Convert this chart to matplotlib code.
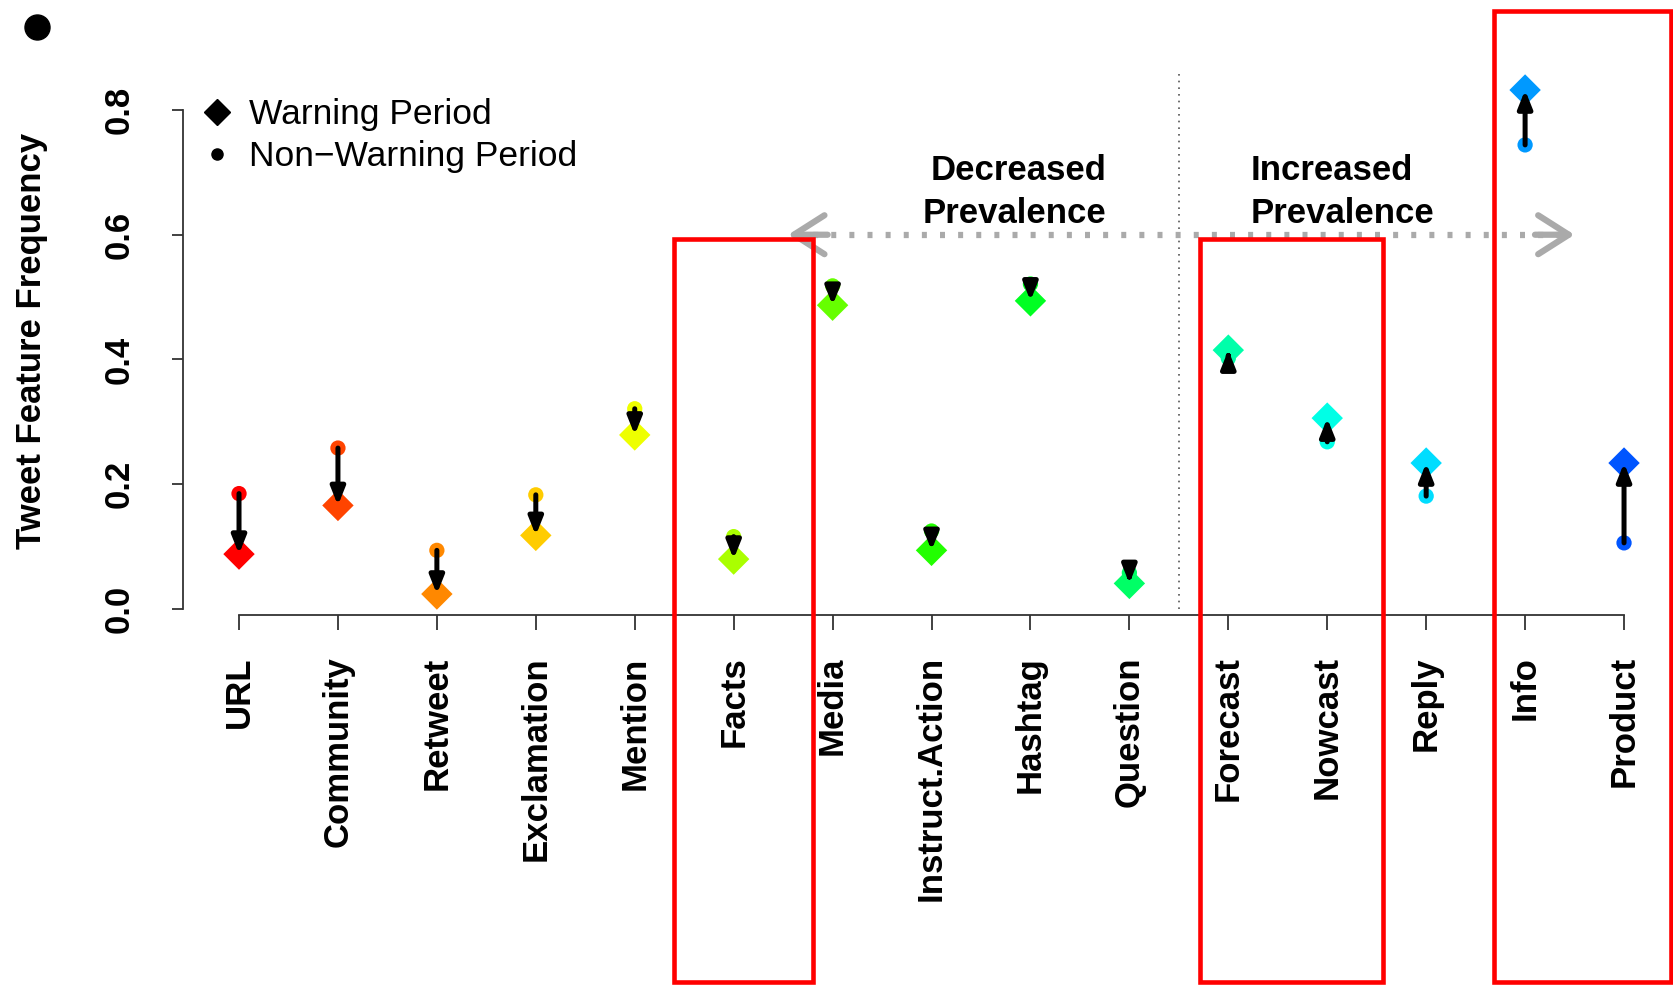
import numpy as np
import matplotlib
matplotlib.use('Agg')
import matplotlib.pyplot as plt
from matplotlib.patches import Rectangle
from matplotlib.lines import Line2D

plt.rcParams['font.family'] = ['Liberation Sans', 'DejaVu Sans']

# tweet features and frequencies
features = ['URL', 'Community', 'Retweet', 'Exclamation', 'Mention', 'Facts',
            'Media', 'Instruct.Action', 'Hashtag', 'Question', 'Forecast',
            'Nowcast', 'Reply', 'Info', 'Product']
warning = [0.088, 0.166, 0.024, 0.118, 0.279, 0.080, 0.487, 0.094, 0.494,
           0.041, 0.415, 0.306, 0.234, 0.832, 0.234]
non_warning = [0.185, 0.258, 0.094, 0.183, 0.321, 0.116, 0.518, 0.125, 0.521,
               0.058, 0.402, 0.268, 0.181, 0.744, 0.106]
colors = ['#FF0000', '#FF4400', '#FF8800', '#FFCC00', '#EEFF00', '#AAFF00',
          '#66FF00', '#22FF00', '#00FF22', '#00FF66', '#00FFAA', '#00FFE6',
          '#00DDFF', '#0099FF', '#0055FF']

# highlight boxes (x from, x to, top) in axis units
boxes = [(4.40, 5.80, 0.593), (9.71, 11.56, 0.593), (12.69, 14.47, 0.959)]

x = np.arange(len(features))

fig = plt.figure(figsize=(16.73, 9.86), dpi=100)
ax = fig.add_axes([0, 0, 1, 1])
ax.set_xlim(-2.416, 14.495)
ax.set_ylim(-0.6044, 0.9763)

# colored markers
ax.scatter(x, warning, marker='D', s=16**2, c=colors, edgecolors='none', zorder=3)
ax.scatter(x, non_warning, marker='o', s=11**2, c=colors, edgecolors='none', zorder=3)

# black arrows from non-warning to warning
for xi, w, nw in zip(x, warning, non_warning):
    ax.annotate('', xy=(xi, w), xytext=(xi, nw),
                arrowprops=dict(arrowstyle='-|>,head_length=0.75,head_width=0.3',
                                lw=3.6, color='black', shrinkA=0, shrinkB=0,
                                mutation_scale=14),
                zorder=4)

# divider
ax.vlines(9.5, 0.0, 0.86, colors='#555555', linestyles=(0, (1, 3)), lw=1.2)

# gray dotted double arrow
ax.hlines(0.6, 5.62, 13.45, colors='#aaaaaa', linestyles=(0, (0.8, 2.1)), lw=4.5)
for tip, back in [(5.55, 5.95), (13.5, 13.1)]:
    ax.annotate('', xy=(tip, 0.6), xytext=(back, 0.6),
                arrowprops=dict(arrowstyle='->,head_length=0.55,head_width=0.35',
                                lw=4.5, color='#aaaaaa', shrinkA=0, shrinkB=0,
                                mutation_scale=40))

ax.text(8.77, 0.668, 'Decreased\nPrevalence', ha='right', va='center',
        multialignment='right', fontsize=25, fontweight='bold', linespacing=1.38)
ax.text(10.23, 0.668, 'Increased\nPrevalence', ha='left', va='center',
        multialignment='left', fontsize=25, fontweight='bold', linespacing=1.38)

# red highlight boxes
for x0, x1, top in boxes:
    ax.add_patch(Rectangle((x0, -0.598), x1 - x0, top + 0.598, fill=False,
                           ec='#FF0000', lw=3.3, clip_on=False, zorder=5))

# axes styling like R
for s in ['top', 'right']:
    ax.spines[s].set_visible(False)
ax.spines['left'].set_position(('data', -0.566))
ax.spines['left'].set_bounds(0, 0.8)
ax.spines['bottom'].set_position(('data', -0.009))
ax.spines['bottom'].set_bounds(0, 14)
for s in ['left', 'bottom']:
    ax.spines[s].set_linewidth(1.3)
    ax.spines[s].set_color('#333333')

ax.set_xticks(x)
ax.set_xticklabels(features, rotation=90, fontsize=25, fontweight='bold', va='top')
ax.set_yticks([0, 0.2, 0.4, 0.6, 0.8])
ax.set_yticklabels(['0.0', '0.2', '0.4', '0.6', '0.8'], rotation=90, va='center',
                   fontsize=25, fontweight='bold')
ax.tick_params(axis='x', length=11, width=1.3, pad=19, color='#333333')
ax.tick_params(axis='y', length=8, width=1.3, pad=26, color='#333333')
ax.set_ylabel('Tweet Feature Frequency', fontsize=25, fontweight='bold')
ax.yaxis.set_label_coords(32 / 1673, 1 - 341 / 986, transform=fig.transFigure)
ax.yaxis.label.set_verticalalignment('center')

# legend
handles = [Line2D([], [], marker='D', color='black', ls='none', ms=13),
           Line2D([], [], marker='o', color='black', ls='none', ms=8)]
ax.legend(handles, ['Warning Period', 'Non\u2212Warning Period'], loc='upper left',
          bbox_to_anchor=(182 / 1673, 1 - 84 / 986), bbox_transform=fig.transFigure,
          frameon=False, fontsize=25.5, handletextpad=0.3, labelspacing=0.25,
          borderaxespad=0, handlelength=1.2)

# bullet in the corner
ax.plot([37 / 1673], [1 - 27 / 986], 'o', color='black', ms=18,
        transform=fig.transFigure, clip_on=False)

fig.savefig('out.png', dpi=100)
